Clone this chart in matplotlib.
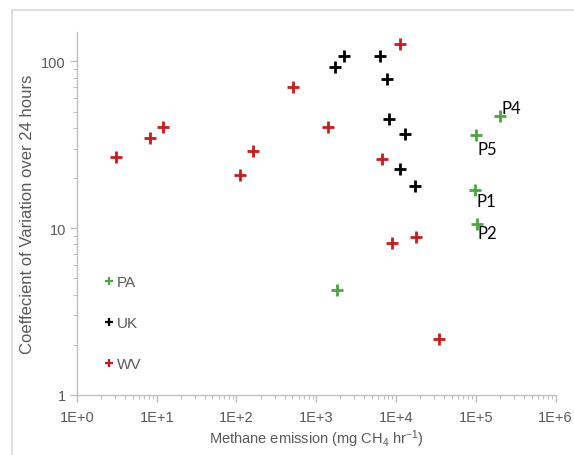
import matplotlib.pyplot as plt
from matplotlib.lines import Line2D
from matplotlib.patches import Rectangle
from matplotlib.ticker import LogLocator, FixedLocator, NullFormatter

plt.rcParams["font.family"] = ["Liberation Sans", "DejaVu Sans"]
plt.rcParams["mathtext.fontset"] = "custom"
plt.rcParams["mathtext.rm"] = "Liberation Sans"
plt.rcParams["mathtext.it"] = "Liberation Sans"

# WV sites
wv_emission = [3.1, 8.2, 12.0, 111, 159, 509, 1420, 6760, 11200, 9000, 17700, 34400]
wv_cv = [26.6, 34.5, 40.3, 20.7, 29.1, 70.1, 40.3, 25.9, 127.7, 8.2, 8.9, 2.16]

# UK sites
uk_emission = [1730, 2210, 6350, 7600, 8100, 12900, 11350, 17300]
uk_cv = [92.9, 107, 107, 78.7, 45.0, 36.9, 22.5, 17.9]

# PA sites
pa_emission = [1810, 97900, 102000, 198700, 100000]
pa_cv = [4.27, 16.9, 10.6, 47.2, 36.1]
pa_names = ["", "P1", "P2", "P4", "P5"]

red = "#cc1a1a"
green = "#4aa63f"
gray = "#595959"
axis_gray = "#bfbfbf"

fig = plt.figure(figsize=(5.74, 4.56), dpi=100)
ax = fig.add_axes([0.134, 0.1316, 0.834, 0.796])

# light frame around the chart area
fig.patches.append(Rectangle((0.021, -0.05), 1.1, 1.025, transform=fig.transFigure,
                             fill=False, edgecolor="#d9d9d9", linewidth=1.2))

mk = dict(marker="+", linestyle="none", markersize=9, markeredgewidth=2.0)
ax.plot(wv_emission, wv_cv, color=red, **mk)
ax.plot(uk_emission, uk_cv, color="black", **mk)
ax.plot(pa_emission, pa_cv, color=green, **mk)

# P labels next to the PA points
offsets = {"P1": (1, -2, "top"), "P2": (1, -1, "top"),
           "P4": (1, 0, "bottom"), "P5": (1, -4, "top")}
for x, y, name in zip(pa_emission, pa_cv, pa_names):
    if name:
        dx, dy, va = offsets[name]
        ax.annotate(name, (x, y), xytext=(dx, dy), textcoords="offset points",
                    ha="left", va=va, fontsize=12, family="Lato", color="black")

ax.set_xscale("log")
ax.set_yscale("log")
ax.set_xlim(1, 1e6)
ax.set_ylim(1, 150)

ax.xaxis.set_major_locator(FixedLocator([1, 10, 100, 1e3, 1e4, 1e5, 1e6]))
ax.set_xticklabels(["1E+0", "1E+1", "1E+2", "1E+3", "1E+4", "1E+5", "1E+6"])
ax.xaxis.set_minor_locator(LogLocator(base=10, subs=range(2, 10), numticks=20))
ax.xaxis.set_minor_formatter(NullFormatter())
ax.yaxis.set_major_locator(FixedLocator([1, 10, 100]))
ax.set_yticklabels(["1", "10", "100"])
ax.yaxis.set_minor_locator(LogLocator(base=10, subs=range(2, 10), numticks=20))
ax.yaxis.set_minor_formatter(NullFormatter())

for s in ["top", "right"]:
    ax.spines[s].set_visible(False)
for s in ["left", "bottom"]:
    ax.spines[s].set_color(axis_gray)
    ax.spines[s].set_linewidth(1.0)

ax.tick_params(which="major", direction="out", length=5, width=1,
               color=axis_gray, labelcolor=gray, labelsize=10.5)
ax.tick_params(axis="x", which="major", pad=6)
ax.tick_params(axis="y", which="major", pad=3)
ax.tick_params(which="minor", direction="out", length=3, width=0.8, color=axis_gray)

ax.set_xlabel("Methane emission (mg CH$_4$ hr$^{-1}$)", color=gray, fontsize=10.5, labelpad=2)
ax.set_ylabel("Coeffecient of Variation over 24 hours", color=gray, fontsize=12)
ax.yaxis.set_label_coords(-0.088, 0.5)

handles = [
    Line2D([0], [0], color=green, marker="+", linestyle="none", markersize=6, markeredgewidth=1.6, label="PA"),
    Line2D([0], [0], color="black", marker="+", linestyle="none", markersize=6, markeredgewidth=1.6, label="UK"),
    Line2D([0], [0], color=red, marker="+", linestyle="none", markersize=6, markeredgewidth=1.6, label="WV"),
]
leg = ax.legend(handles=handles, loc="center left", bbox_to_anchor=(0.028, 0.198),
                frameon=False, handlelength=0.6, handletextpad=0.25,
                labelspacing=1.75, fontsize=11, labelcolor=gray)

fig.savefig("out.png", dpi=100)
